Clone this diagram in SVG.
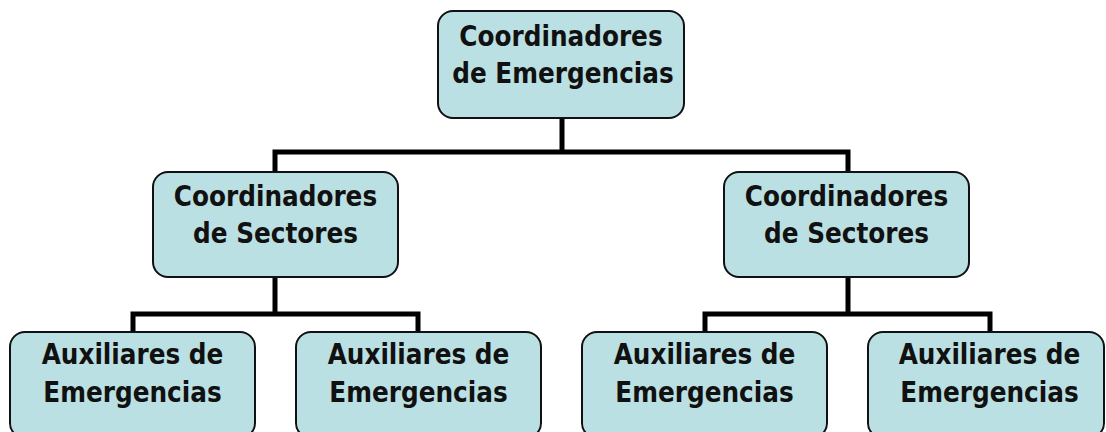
<svg xmlns="http://www.w3.org/2000/svg" width="1106" height="432" viewBox="0 0 1106 432">
<style>
.box{fill:#BAE0E3;stroke:#111;stroke-width:2}
.lbl{font-family:"DejaVu Sans Condensed","DejaVu Sans",sans-serif;font-weight:bold;font-size:27.5px;fill:#111;text-anchor:middle}
.con{fill:none;stroke:#000;stroke-width:5;stroke-linejoin:miter;stroke-linecap:butt}
</style>
<rect width="1106" height="432" fill="#fff"/>
<g id="connectors">
<path class="con" d="M562,118 V152"/>
<path class="con" d="M275,172 V152 H848 V172"/>
<path class="con" d="M275,277 V314"/>
<path class="con" d="M133,332 V314 H418 V332"/>
<path class="con" d="M848,277 V314"/>
<path class="con" d="M705,332 V314 H990 V332"/>
</g>
<g id="n-top">
<rect class="box" x="438" y="11" width="246" height="107" rx="15"/>
<text class="lbl" x="561" y="46">Coordinadores</text>
<text class="lbl" x="563" y="83">de Emergencias</text>
</g>
<g id="n-sec-left">
<rect class="box" x="153" y="172" width="245" height="105" rx="15"/>
<text class="lbl" x="275.5" y="206">Coordinadores</text>
<text class="lbl" x="275.5" y="243">de Sectores</text>
</g>
<g id="n-sec-right">
<rect class="box" x="724" y="172" width="245" height="105" rx="15"/>
<text class="lbl" x="846.5" y="206">Coordinadores</text>
<text class="lbl" x="846.5" y="243">de Sectores</text>
</g>
<g id="n-aux-1">
<rect class="box" x="10" y="332" width="245" height="106" rx="15"/>
<text class="lbl" x="132.5" y="364">Auxiliares de</text>
<text class="lbl" x="132.5" y="402">Emergencias</text>
</g>
<g id="n-aux-2">
<rect class="box" x="296" y="332" width="245" height="106" rx="15"/>
<text class="lbl" x="418.5" y="364">Auxiliares de</text>
<text class="lbl" x="418.5" y="402">Emergencias</text>
</g>
<g id="n-aux-3">
<rect class="box" x="582" y="332" width="245" height="106" rx="15"/>
<text class="lbl" x="704.5" y="364">Auxiliares de</text>
<text class="lbl" x="704.5" y="402">Emergencias</text>
</g>
<g id="n-aux-4">
<rect class="box" x="868" y="332" width="236" height="106" rx="15"/>
<text class="lbl" x="989.5" y="364">Auxiliares de</text>
<text class="lbl" x="989.5" y="402">Emergencias</text>
</g>
</svg>
